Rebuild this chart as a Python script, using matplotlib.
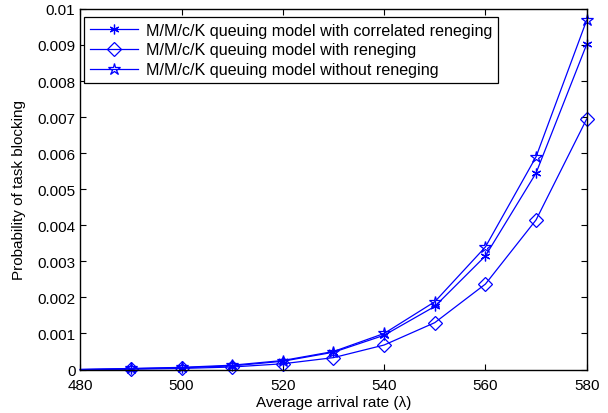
import matplotlib
matplotlib.use("Agg")
import matplotlib.pyplot as plt

plt.rcParams['font.family'] = ['Liberation Sans', 'DejaVu Sans']

arrival = [480, 490, 500, 510, 520, 530, 540, 550, 560, 570, 580]
correlated = [0.0, 0.00002, 0.00005, 0.00010, 0.00023, 0.00048, 0.00095, 0.00175, 0.00315, 0.00545, 0.00902]
reneging = [0.0, 0.00001, 0.00003, 0.00007, 0.00016, 0.00033, 0.00068, 0.00130, 0.00237, 0.00415, 0.00695]
no_reneging = [0.0, 0.00003, 0.00006, 0.00012, 0.00025, 0.00050, 0.00100, 0.00188, 0.00340, 0.00590, 0.00969]

labels = ["M/M/c/K queuing model with correlated reneging",
          "M/M/c/K queuing model with reneging",
          "M/M/c/K queuing model without reneging"]

fig = plt.figure(figsize=(6.08, 4.14), dpi=100)
ax = fig.add_axes([0.132, 0.105, 0.833, 0.871])

blue = "#0000ff"
marks = list(range(1, len(arrival)))
ax.plot(arrival, correlated, color=blue, lw=0.9, marker=(6, 2, 0), ms=7,
        mew=0.9, markevery=marks, clip_on=False, label=labels[0])
ax.plot(arrival, reneging, color=blue, lw=0.9, marker="D", ms=7,
        mfc="none", mew=0.9, markevery=marks, clip_on=False, label=labels[1])
ax.plot(arrival, no_reneging, color=blue, lw=0.9, marker="*", ms=9,
        mfc="none", mew=0.9, markevery=marks, clip_on=False, label=labels[2])

ax.set_xlim(480, 580)
ax.set_ylim(0, 0.01)
ax.set_xticks(range(480, 581, 20))
yt = [i * 0.001 for i in range(11)]
ax.set_yticks(yt)
ax.set_yticklabels(["0"] + ["%g" % round(v, 3) for v in yt[1:]])
ax.tick_params(direction="in", top=True, right=True, labelsize=11, length=4)
ax.tick_params(axis="x", pad=6)
for s in ax.spines.values():
    s.set_linewidth(1.0)

ax.set_xlabel("Average arrival rate (\u03bb)", fontsize=11, labelpad=2)
ax.set_ylabel("Probability of task blocking", fontsize=11, labelpad=8)

leg = ax.legend(loc="upper left", bbox_to_anchor=(0.008, 0.978), borderaxespad=0,
                fontsize=11.6, fancybox=False, edgecolor="black",
                framealpha=1, handlelength=3.0, handletextpad=0.5,
                labelspacing=0.3, borderpad=0.35)
leg.get_frame().set_linewidth(0.9)

fig.savefig("out.png", dpi=100)
